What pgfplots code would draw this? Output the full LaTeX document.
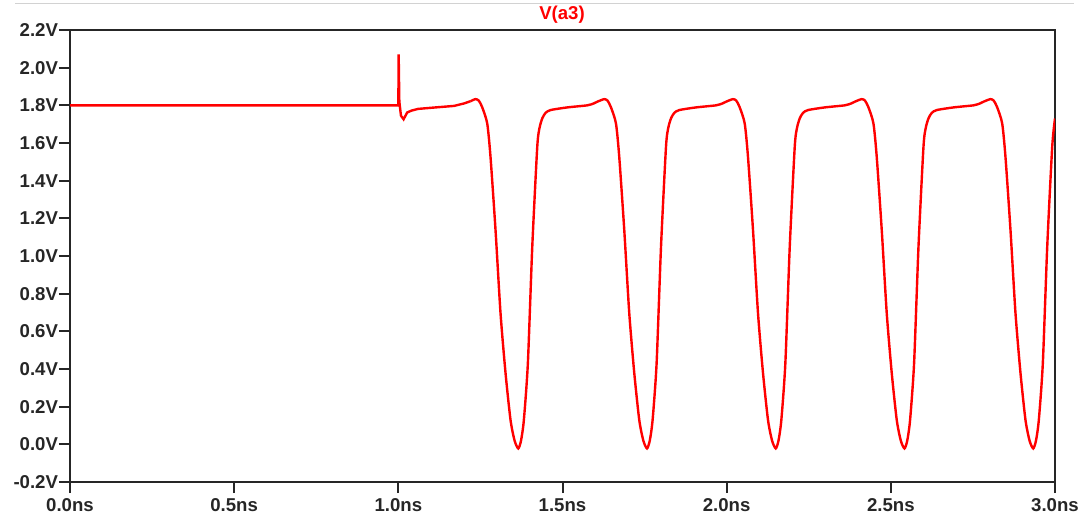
\documentclass[border=0pt]{standalone}
\usepackage{pgfplots}
\pgfplotsset{compat=1.18}
\usepackage{fontspec}
\setmainfont{Liberation Sans}
\begin{document}
\begin{tikzpicture}
\useasboundingbox (0,0) rectangle (540.5pt,257.5pt);
\draw[gray!35, line width=0.8pt] (7.5pt,255.8pt) -- (537pt,255.8pt);
\begin{axis}[
  at={(35pt,16.5pt)}, anchor=south west,
  scale only axis, width=492.5pt, height=226pt,
  xmin=0, xmax=3, ymin=-0.2, ymax=2.2,
  xtick={0,0.5,...,3.0}, ytick={-0.2,0,0.2,...,2.21},
  tick pos=left,
  tick align=outside, major tick length=5.5pt,
  tick style={black!85, line width=1pt},
  axis line style={black!85, line width=1.1pt},
  /pgf/number format/assume math mode=true,
  tick label style={font=\bfseries\fontsize{9.3}{11}\selectfont, black!85},
  xticklabel={\pgfmathprintnumber[fixed,fixed zerofill,precision=1]{\tick}ns},
  yticklabel={\pgfmathprintnumber[fixed,fixed zerofill,precision=1]{\tick}V},
  yticklabel style={inner xsep=0.3pt},
  xticklabel style={yshift=0.8pt},
  clip=true,
]
\addplot[red, line width=1.2pt] coordinates {
(0,1.8) (1.0,1.8) (1.001,2.07) (1.003,1.82) (1.008,1.745) (1.016,1.726)
(1.027,1.762) (1.04,1.772) (1.06,1.781) (1.1,1.787) (1.17,1.797) (1.2,1.81) (1.22,1.822)
};
\addplot[red, line width=1.2pt, smooth, tension=0.4] coordinates {
(1.22,1.822)
(1.235,1.833) (1.245,1.825) (1.2554,1.79) (1.2707,1.704) (1.2807,1.527) (1.296,1.138)
(1.3112,0.697) (1.3265,0.378) (1.3417,0.129) (1.354,0.02) (1.3652,-0.022) (1.3737,0.02)
(1.3823,0.129) (1.3945,0.43) (1.4079,1.049) (1.4231,1.58) (1.430,1.68) (1.4384,1.731)
(1.4484,1.76) (1.4637,1.775) (1.5146,1.789) (1.5755,1.80) (1.595,1.81) (1.607,1.82)
(1.6271,1.833) (1.6371,1.825) (1.6475,1.79) (1.6628,1.704) (1.6728,1.527) (1.6881,1.138)
(1.7033,0.697) (1.7186,0.378) (1.7338,0.129) (1.7461,0.02) (1.7573,-0.022) (1.7658,0.02)
(1.7744,0.129) (1.7866,0.43) (1.8,1.049) (1.8152,1.58) (1.8221,1.68) (1.8305,1.731)
(1.8405,1.76) (1.8558,1.775) (1.9067,1.789) (1.9676,1.80) (1.9871,1.81) (1.9991,1.82)
(2.0192,1.833) (2.0292,1.825) (2.0396,1.79) (2.0549,1.704) (2.0649,1.527) (2.0802,1.138)
(2.0954,0.697) (2.1107,0.378) (2.1259,0.129) (2.1382,0.02) (2.1494,-0.022) (2.1579,0.02)
(2.1665,0.129) (2.1787,0.43) (2.1921,1.049) (2.2073,1.58) (2.2142,1.68) (2.2226,1.731)
(2.2326,1.76) (2.2479,1.775) (2.2988,1.789) (2.3597,1.80) (2.3792,1.81) (2.3912,1.82)
(2.4113,1.833) (2.4213,1.825) (2.4317,1.79) (2.447,1.704) (2.457,1.527) (2.4723,1.138)
(2.4875,0.697) (2.5028,0.378) (2.518,0.129) (2.5303,0.02) (2.5415,-0.022) (2.55,0.02)
(2.5586,0.129) (2.5708,0.43) (2.5842,1.049) (2.5994,1.58) (2.6063,1.68) (2.6147,1.731)
(2.6247,1.76) (2.64,1.775) (2.6909,1.789) (2.7518,1.80) (2.7713,1.81) (2.7833,1.82)
(2.8034,1.833) (2.8134,1.825) (2.8238,1.79) (2.8391,1.704) (2.8491,1.527) (2.8644,1.138)
(2.8796,0.697) (2.8949,0.378) (2.9101,0.129) (2.9224,0.02) (2.9336,-0.022) (2.9421,0.02)
(2.9507,0.129) (2.9629,0.43) (2.9763,1.049) (2.9915,1.58) (3.0,1.73)
};
\end{axis}
\node[text=red, font=\bfseries\fontsize{9.3}{11}\selectfont] at (281pt,250pt) {V(a3)};
\end{tikzpicture}
\end{document}
